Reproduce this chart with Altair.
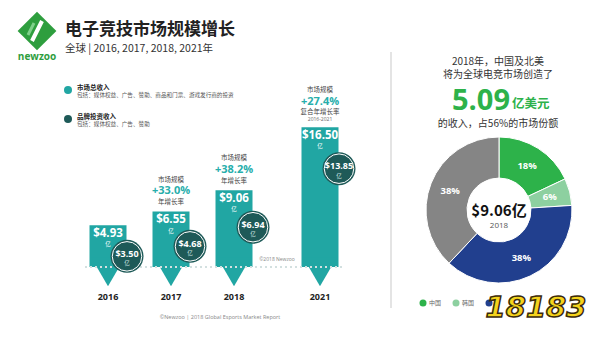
import altair as alt
import pandas as pd

# ---------------- data ----------------
years = [2016, 2017, 2018, 2021]
market_total = [4.93, 6.55, 9.06, 16.50]      # 市场总收入 (亿美元)
brand_invest = [3.50, 4.68, 6.94, 13.85]      # 品牌投资收入 (亿美元)
growth_years = [2017, 2018]
growth_rates = ["+33.0%", "+38.2%"]
cagr_year = 2021
cagr_rate = "+27.4%"
cagr_period = "2016-2021"

regions = ["中国", "韩国", "北美", "其他"]
region_share = [18, 6, 38, 38]
region_colors = ["#2db24a", "#8dd0a0", "#213f8e", "#858585"]
legend_regions_visible = ["中国", "韩国"]

title_text = ["电子竞技市场规模增长"]
subtitle_text = ["全球 | 2016, 2017, 2018, 2021年"]
legend_titles = ["市场总收入", "品牌投资收入"]
legend_notes = ["包括：媒体权益、广告、赞助、商品和门票、游戏发行商的投资", "包括：媒体权益、广告、赞助"]
right_lines = ["2018年，中国及北美", "将为全球电竞市场创造了", "的收入，占56%的市场份额"]
right_big = ["5.09", "亿美元"]
donut_center = ["$9.06亿", "2018"]
footer_text = ["©Newzoo | 2018 Global Esports Market Report", "©2018 Newzoo"]
growth_words = ["市场规模", "年增长率", "复合年增长率", "亿"]

TEAL = "#21a6a3"
TEAL_TXT = "#27aeab"
DARK = "#1e5a58"
GREEN = "#2e9e3e"
CJK = "Noto Sans CJK SC"
LAT = "Open Sans"

bars = pd.DataFrame({"year": years, "total": market_total, "brand": brand_invest})
bars["base"] = 0.0
bars["total_lbl"] = ["$%.2f" % v for v in market_total]
bars["brand_lbl"] = ["$%.2f" % v for v in brand_invest]
bars["yi"] = growth_words[3]
bars["year_lbl"] = [str(y) for y in years]

tot = dict(zip(years, market_total))
grow = pd.DataFrame({"year": growth_years, "total": [tot[y] for y in growth_years],
                     "rate": growth_rates, "w1": growth_words[0], "w2": growth_words[1]})
cagr = pd.DataFrame({"year": [cagr_year], "total": [tot[cagr_year]], "rate": [cagr_rate],
                     "w1": [growth_words[0]], "w2": [growth_words[2]], "p": [cagr_period]})
pie = pd.DataFrame({"region": regions, "share": region_share, "k": list(range(len(regions)))})
pie["lbl"] = [f"{s}%" for s in region_share]
one = pd.DataFrame({"base": [0.0]})

# time axis is compressed after 2018 (2018 -> 2021 drawn shorter), as in the original
POS = "datum.year <= 2018 ? datum.year : 2018 + (datum.year - 2018) * 0.455"
xs = alt.Scale(domain=[2014.365, 2023.730], nice=False, zero=False)
ys = alt.Scale(domain=[-8.383, 31.52], nice=False, zero=False)
X = alt.X("pos:Q", scale=xs, axis=None)
Yt = alt.Y("total:Q", scale=ys, axis=None)
Yb = alt.Y("brand:Q", scale=ys, axis=None)
Y0 = alt.Y("base:Q", scale=ys, axis=None)


def T(text, x, y, size, color="#333", weight="normal", align="center", font=CJK, **kw):
    return alt.Chart(alt.Data(values=[{"t": text}])).mark_text(
        align=align, baseline="middle", fontSize=size, font=font, fontWeight=weight,
        color=color, **kw).encode(x=alt.value(x), y=alt.value(y), text="t:N")


layers = []

# ---------- logo ----------
layers.append(alt.Chart(one).mark_point(shape="diamond", filled=True, size=1500, color=GREEN,
                                         opacity=1, strokeWidth=0)
              .encode(x=alt.value(37), y=alt.value(31)))
layers.append(alt.Chart(one).mark_rule(color="white", strokeWidth=4)
              .encode(x=alt.value(42), y=alt.value(21), x2=alt.value(32), y2=alt.value(41)))
layers.append(alt.Chart(one).mark_rule(color="#7fd08a", strokeWidth=3)
              .encode(x=alt.value(34), y=alt.value(23), x2=alt.value(28), y2=alt.value(35)))
layers.append(T("newzoo", 37, 57, 10, color=GREEN, weight="bold", font=LAT))

# ---------- titles ----------
layers.append(T(title_text[0], 65, 30, 17, color="#222", weight="bold", align="left"))
layers.append(T(subtitle_text[0], 65, 49, 10.5, color="#333", align="left"))

# ---------- top-left legend ----------
for i, (c, ty) in enumerate([(TEAL, 90), (DARK, 119)]):
    layers.append(alt.Chart(one).mark_point(shape="circle", filled=True, size=64, color=c, opacity=1)
                  .encode(x=alt.value(68), y=alt.value(ty)))
    layers.append(T(legend_titles[i], 77, ty - 2.5, 6.5, color="#222", weight="bold", align="left"))
    layers.append(T(legend_notes[i], 77, ty + 5, 5.6, color="#555", align="left"))

# ---------- bars ----------
b = alt.Chart(bars).transform_calculate(pos=POS)
layers.append(b.mark_bar(size=37, color=TEAL).encode(x=X, y=Yt, y2=alt.Y2("base:Q")))
layers.append(b.mark_point(shape="triangle-down", filled=True, size=1100, color=TEAL, opacity=1,
                           strokeWidth=0, yOffset=5).encode(x=X, y=Y0))
layers.append(alt.Chart(one).mark_rule(color="#d3e0e0", strokeWidth=2, strokeDash=[2, 3])
              .encode(x=alt.value(85), x2=alt.value(345), y=Y0))
layers.append(b.mark_text(yOffset=8.5, fontSize=11.5, font=LAT, fontWeight="bold", color="white")
              .encode(x=X, y=Yt, text="total_lbl:N"))
layers.append(b.mark_text(yOffset=19, fontSize=5.5, font=CJK, color="white")
              .encode(x=X, y=Yt, text="yi:N"))
layers.append(b.mark_point(shape="circle", filled=True, size=1089, color=DARK, opacity=1,
                           xOffset=19, yOffset=19, strokeWidth=0).encode(x=X, y=Yb))
layers.append(b.mark_point(shape="circle", filled=False, size=870, color="white", opacity=1,
                           strokeWidth=1, xOffset=19, yOffset=19).encode(x=X, y=Yb))
layers.append(b.mark_text(xOffset=19, yOffset=16.5, fontSize=9, font=LAT, fontWeight="bold",
                          color="white").encode(x=X, y=Yb, text="brand_lbl:N"))
layers.append(b.mark_text(xOffset=19, yOffset=26, fontSize=5.5, font=CJK, color="#cfe3e2")
              .encode(x=X, y=Yb, text="yi:N"))
layers.append(b.mark_text(fontSize=9, font=LAT, fontWeight="bold", color="#222")
              .encode(x=X, y=alt.value(297), text="year_lbl:N"))

g = alt.Chart(grow).transform_calculate(pos=POS)
layers.append(g.mark_text(yOffset=-32, fontSize=6.5, font=CJK, color="#444")
              .encode(x=X, y=Yt, text="w1:N"))
layers.append(g.mark_text(yOffset=-20.5, fontSize=11, font=LAT, fontWeight="bold", color=TEAL_TXT)
              .encode(x=X, y=Yt, text="rate:N"))
layers.append(g.mark_text(yOffset=-9.5, fontSize=6.5, font=CJK, color="#444")
              .encode(x=X, y=Yt, text="w2:N"))
cg = alt.Chart(cagr).transform_calculate(pos=POS)
layers.append(cg.mark_text(yOffset=-37, fontSize=6.5, font=CJK, color="#444")
              .encode(x=X, y=Yt, text="w1:N"))
layers.append(cg.mark_text(yOffset=-25.5, fontSize=11, font=LAT, fontWeight="bold", color=TEAL_TXT)
              .encode(x=X, y=Yt, text="rate:N"))
layers.append(cg.mark_text(yOffset=-15.5, fontSize=6.5, font=CJK, color="#444")
              .encode(x=X, y=Yt, text="w2:N"))
layers.append(cg.mark_text(yOffset=-8, fontSize=5, font=LAT, color="#666")
              .encode(x=X, y=Yt, text="p:N"))

layers.append(T(footer_text[1], 277, 259, 5, color="#888", font=LAT))
layers.append(T(footer_text[0], 220, 317, 5.5, color="#888", font=LAT))

# ---------- divider ----------
layers.append(alt.Chart(one).mark_rule(color="#e4e4e4", strokeWidth=2)
              .encode(x=alt.value(391), y=alt.value(52), y2=alt.value(308)))

# ---------- right panel ----------
layers.append(T(right_lines[0], 498, 62, 10, color="#333"))
layers.append(T(right_lines[1], 498, 75, 10, color="#333"))
layers.append(T(right_big[0], 510, 101, 29, color="#2db24a", weight="bold", align="right", font=LAT))
layers.append(T(right_big[1], 512, 104, 12.5, color="#2db24a", weight="bold", align="left"))
layers.append(T(right_lines[2], 498, 124, 10, color="#333"))

theta = alt.Theta("share:Q", stack=True)
order = alt.Order("k:Q")
p = alt.Chart(pie)
layers.append(p.mark_arc(innerRadius=32, outerRadius=73, stroke="white", strokeWidth=1).encode(
    theta=theta, order=order,
    color=alt.Color("region:N", scale=alt.Scale(domain=regions, range=region_colors), legend=None),
    x=alt.value(499), y=alt.value(210)))
layers.append(p.mark_text(radius=52.5, fontSize=9.5, font=LAT, fontWeight="bold", color="white").encode(
    theta=theta, order=order, text="lbl:N", x=alt.value(499), y=alt.value(210)))
layers.append(T(donut_center[0], 499, 210.5, 15, color="#111", weight="bold"))
layers.append(T(donut_center[1], 499, 226, 8, color="#555", font=LAT))

# bottom legend (the rest is hidden under the site watermark in the original)
for i, (r, c) in enumerate(zip(regions[:3], region_colors[:3])):
    cx = 423 + i * 33
    layers.append(alt.Chart(one).mark_point(shape="circle", filled=True, size=49, color=c, opacity=1)
                  .encode(x=alt.value(cx), y=alt.value(303)))
    if r in legend_regions_visible:
        layers.append(T(r, cx + 6, 303, 6, color="#666", align="left"))

layers.append(T("18183", 536, 308, 29, color="#f5d31c", weight="bold", font="DejaVu Sans",
                fontStyle="italic", stroke="#3b2a0c", strokeWidth=1.5))

chart = alt.layer(*layers).properties(
    width=600, height=338, padding=0,
    autosize=alt.AutoSizeParams(type="none"), background="white"
).configure_view(stroke=None)

chart.save("out.html", embed_options={"renderer": "svg", "actions": False})
